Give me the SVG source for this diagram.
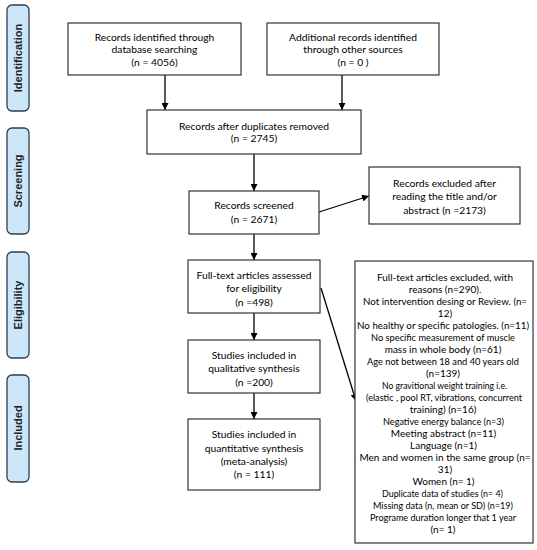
<svg xmlns="http://www.w3.org/2000/svg" width="537" height="550" viewBox="0 0 537 550">
<defs>
<marker id="ah" viewBox="0 0 10 10" refX="10" refY="5" markerWidth="7" markerHeight="7" markerUnits="userSpaceOnUse" orient="auto">
<path d="M0,0 L10,5 L0,10 z" fill="#000"/>
</marker>
</defs>
<style>
.box{fill:#fff;stroke:#333;stroke-width:1.2}
.side{fill:#cde7fa;stroke:#2f3e4c;stroke-width:1.3}
.t{font-family:Lato,"Liberation Sans",sans-serif;font-size:10.3px;fill:#000;text-anchor:middle}
.b{font-size:10px}
.s{font-family:"Liberation Sans",Arial,sans-serif;font-size:11px;font-weight:bold;fill:#222;text-anchor:middle}
.c{stroke:#000;stroke-width:1.3;fill:none;marker-end:url(#ah)}
</style>
<rect width="537" height="550" fill="#fff"/>
<g id="side-identification"><rect class="side" x="7" y="5" width="22" height="106" rx="5"/><text class="s" transform="translate(22,58) rotate(-90)">Identification</text></g>
<g id="side-screening"><rect class="side" x="7" y="128" width="22" height="106" rx="5"/><text class="s" transform="translate(22,181) rotate(-90)">Screening</text></g>
<g id="side-eligibility"><rect class="side" x="7" y="252" width="22" height="106" rx="5"/><text class="s" transform="translate(22,305) rotate(-90)">Eligibility</text></g>
<g id="side-included"><rect class="side" x="7" y="375" width="22" height="107" rx="5"/><text class="s" transform="translate(22,428) rotate(-90)">Included</text></g>

<g id="connectors">
<line class="c" x1="165" y1="75" x2="165" y2="110"/>
<line class="c" x1="342" y1="75" x2="342" y2="110"/>
<line class="c" x1="254" y1="154" x2="254" y2="191"/>
<line class="c" x1="254" y1="234" x2="254" y2="260"/>
<line class="c" x1="254" y1="313" x2="254" y2="340"/>
<line class="c" x1="254" y1="393" x2="254" y2="419"/>
<line class="c" x1="319" y1="212" x2="369" y2="196"/>
<line class="c" x1="321" y1="288" x2="356" y2="401"/>
</g>

<g id="n1"><rect class="box" x="68" y="23" width="173" height="52"/>
<text class="t" x="154.5" y="41">Records identified through</text>
<text class="t" x="154.5" y="53">database searching</text>
<text class="t" x="154.5" y="66">(n = 4056)</text></g>

<g id="n2"><rect class="box" x="267" y="23" width="172" height="52"/>
<text class="t" x="353" y="41">Additional records identified</text>
<text class="t" x="353" y="53">through other sources</text>
<text class="t" x="353" y="66">(n =  0 )</text></g>

<g id="n3"><rect class="box" x="147" y="110" width="214" height="44"/>
<text class="t" x="254" y="130">Records after duplicates removed</text>
<text class="t" x="254" y="142">(n =  2745)</text></g>

<g id="n4"><rect class="box" x="189" y="191" width="130" height="43"/>
<text class="t" x="254" y="209">Records screened</text>
<text class="t" x="254" y="223">(n = 2671)</text></g>

<g id="n5"><rect class="box" x="369" y="167" width="151" height="57"/>
<text class="t" x="444.5" y="187">Records excluded after</text>
<text class="t" x="444.5" y="200">reading the title and/or</text>
<text class="t" x="444.5" y="214">abstract (n =2173)</text></g>

<g id="n6"><rect class="box" x="188" y="260" width="132" height="53"/>
<text class="t" x="254" y="279">Full-text articles assessed</text>
<text class="t" x="254" y="292">for eligibility</text>
<text class="t" x="254" y="306">(n =498)</text></g>

<g id="n7"><rect class="box" x="188" y="340" width="132" height="53"/>
<text class="t" x="254" y="359">Studies included in</text>
<text class="t" x="254" y="372">qualitative synthesis</text>
<text class="t" x="254" y="386">(n =200)</text></g>

<g id="n8"><rect class="box" x="188" y="419" width="132" height="71"/>
<text class="t" x="254" y="438">Studies included in</text>
<text class="t" x="254" y="452">quantitative synthesis</text>
<text class="t" x="254" y="465">(meta-analysis)</text>
<text class="t" x="254" y="478">(n =  111)</text></g>

<g id="n9"><rect class="box" x="355" y="261" width="178" height="282"/>
<text class="t b" x="445" y="281" textLength="136" lengthAdjust="spacingAndGlyphs">Full-text articles excluded, with</text>
<text class="t b" x="445" y="293">reasons (n=290).</text>
<text class="t b" x="445" y="305" textLength="164" lengthAdjust="spacingAndGlyphs">Not intervention desing or Review. (n=</text>
<text class="t b" x="445" y="317">12)</text>
<text class="t b" x="443" y="329" textLength="172" lengthAdjust="spacingAndGlyphs">No healthy or specific patologies. (n=11)</text>
<text class="t b" x="443" y="341" textLength="144" lengthAdjust="spacingAndGlyphs">No specific measurement of muscle</text>
<text class="t b" x="443" y="353">mass in whole body (n=61)</text>
<text class="t b" x="443" y="365" textLength="152" lengthAdjust="spacingAndGlyphs">Age not between 18 and 40 years old</text>
<text class="t b" x="443" y="377">(n=139)</text>
<text class="t b" x="444.5" y="389" textLength="125" lengthAdjust="spacingAndGlyphs">No gravitional weight training i.e.</text>
<text class="t b" x="444" y="401" textLength="156" lengthAdjust="spacingAndGlyphs">(elastic , pool RT, vibrations, concurrent</text>
<text class="t b" x="443" y="413">training) (n=16)</text>
<text class="t b" x="443.5" y="425" textLength="121" lengthAdjust="spacingAndGlyphs">Negative energy balance (n=3)</text>
<text class="t b" x="443.5" y="437">Meeting abstract (n=11)</text>
<text class="t b" x="443.5" y="449">Language (n=1)</text>
<text class="t b" x="445" y="461">Men and women in the same group (n=</text>
<text class="t b" x="445" y="473">31)</text>
<text class="t b" x="443.5" y="485">Women (n= 1)</text>
<text class="t b" x="442.5" y="497" textLength="121" lengthAdjust="spacingAndGlyphs">Duplicate data of studies (n= 4)</text>
<text class="t b" x="443" y="509" textLength="140" lengthAdjust="spacingAndGlyphs">Missing data (n, mean or SD) (n=19)</text>
<text class="t b" x="443" y="521" textLength="146" lengthAdjust="spacingAndGlyphs">Programe duration longer that 1 year</text>
<text class="t b" x="443" y="533">(n= 1)</text></g>
</svg>
